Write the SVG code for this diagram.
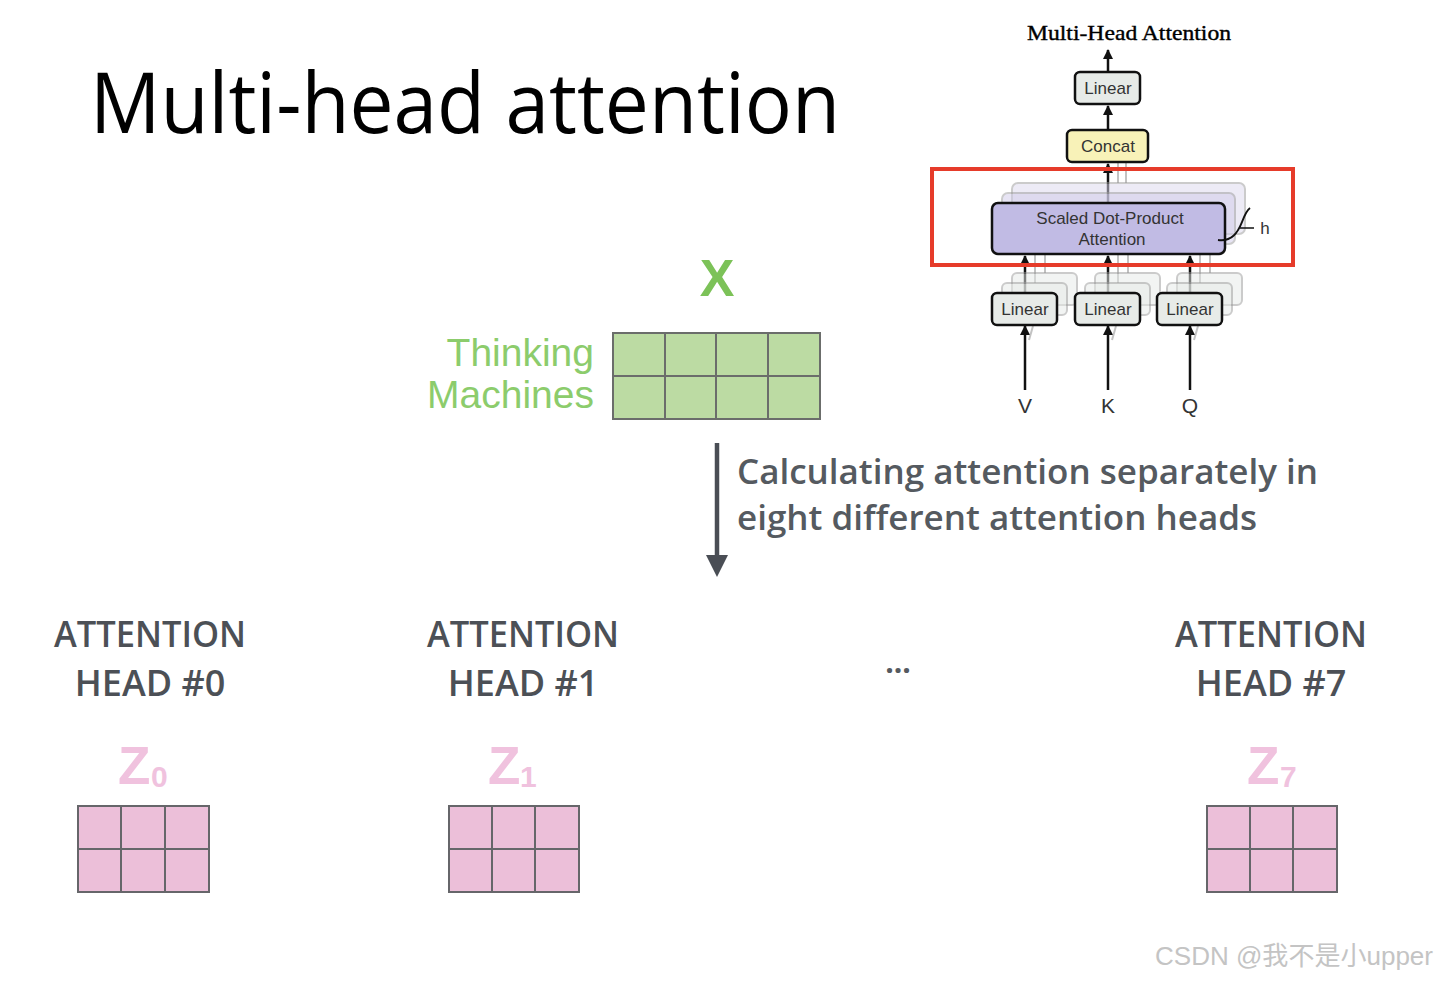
<svg xmlns="http://www.w3.org/2000/svg" width="1440" height="981" viewBox="0 0 1440 981">
<defs>
<marker id="ah" viewBox="0 0 10 10" refX="9" refY="5" markerWidth="4" markerHeight="4" orient="auto" markerUnits="strokeWidth"><path d="M0,0 L10,5 L0,10 z" fill="#111"/></marker>
<style>
.title{font-family:"Open Sans","Noto Sans",sans-serif;font-size:84px;fill:#000}
.mha{font-family:"Liberation Serif",serif;font-size:22px;fill:#000;stroke:#000;stroke-width:0.4}
.box{stroke:#111;stroke-width:2.5}
.ghost{stroke:#999;stroke-width:2;opacity:0.5}
.lin{fill:#e7ebe8}
.sm{font-family:"Liberation Sans",sans-serif;font-size:17px;fill:#333;text-anchor:middle}
.wire{stroke:#111;stroke-width:2.5;fill:none}
.fwire{stroke:#999;stroke-width:2;fill:none;opacity:0.6}
.green{font-family:"Liberation Sans",sans-serif;fill:#8ccc6c}
.gcell{fill:#bcdba3;stroke:#6b6d6b;stroke-width:2}
.pcell{fill:#ecbfd9;stroke:#66666a;stroke-width:2}
.head{font-family:"Open Sans","Noto Sans",sans-serif;font-size:36px;font-weight:600;fill:#4c5056;text-anchor:middle}
.desc{font-family:"Open Sans","Noto Sans",sans-serif;font-size:34px;font-weight:600;fill:#555a60}
.z{font-family:"Liberation Sans",sans-serif;font-weight:bold;fill:#f0c2de}
</style>
</defs>
<rect width="1440" height="981" fill="#fff"/>
<text class="title" x="90" y="133" textLength="750" lengthAdjust="spacingAndGlyphs">Multi-head attention</text>

<g id="mha-diagram">
<text class="mha" x="1027" y="40" textLength="204" lengthAdjust="spacingAndGlyphs">Multi-Head Attention</text>
<g id="connectors-mha">
<line class="wire" x1="1108" y1="72" x2="1108" y2="50" marker-end="url(#ah)"/>
<line class="wire" x1="1108" y1="130" x2="1108" y2="106" marker-end="url(#ah)"/>
<line class="fwire" x1="1118" y1="183" x2="1118" y2="163"/>
<line class="fwire" x1="1126" y1="183" x2="1126" y2="163"/>
<line class="wire" x1="1108" y1="202" x2="1108" y2="164" marker-end="url(#ah)"/>
<line class="fwire" x1="1035" y1="283" x2="1035" y2="254"/>
<line class="fwire" x1="1045" y1="273" x2="1045" y2="244"/>
<line class="fwire" x1="1118" y1="283" x2="1118" y2="254"/>
<line class="fwire" x1="1128" y1="273" x2="1128" y2="244"/>
<line class="fwire" x1="1200" y1="283" x2="1200" y2="254"/>
<line class="fwire" x1="1210" y1="273" x2="1210" y2="244"/>
<line class="wire" x1="1025" y1="292" x2="1025" y2="256" marker-end="url(#ah)"/>
<line class="wire" x1="1108" y1="292" x2="1108" y2="256" marker-end="url(#ah)"/>
<line class="wire" x1="1190" y1="292" x2="1190" y2="256" marker-end="url(#ah)"/>
<line class="wire" x1="1025" y1="390" x2="1025" y2="326" marker-end="url(#ah)"/>
<line class="wire" x1="1108" y1="390" x2="1108" y2="326" marker-end="url(#ah)"/>
<line class="wire" x1="1190" y1="390" x2="1190" y2="326" marker-end="url(#ah)"/>
<line class="fwire" x1="1029" y1="340" x2="1033" y2="326"/>
<line class="fwire" x1="1112" y1="340" x2="1116" y2="326"/>
<line class="fwire" x1="1194" y1="340" x2="1198" y2="326"/>
</g>
<g id="linear-top"><rect class="box lin" x="1075" y="72" width="65" height="32" rx="5"/><text class="sm" x="1108" y="94">Linear</text></g>
<g id="concat"><rect class="box" fill="#f8f2b8" x="1067" y="130" width="81" height="32" rx="5"/><text class="sm" x="1108" y="152">Concat</text></g>
<g id="sdpa">
<rect class="ghost" fill="#dcd8ef" x="1012" y="183" width="233" height="51" rx="6"/>
<rect class="ghost" fill="#d0cbea" x="1002" y="193" width="233" height="51" rx="6"/>
<rect class="box" fill="#c1bbe4" x="992" y="203" width="233" height="51" rx="6"/>
<text class="sm" x="1110" y="224">Scaled Dot-Product</text>
<text class="sm" x="1112" y="245">Attention</text>
<path d="M1218,240 C1232,242 1238,232 1242,222 C1245,214 1247,210 1250,208" fill="none" stroke="#111" stroke-width="2"/>
<line x1="1240" y1="228" x2="1254" y2="228" stroke="#111" stroke-width="1.5"/>
<text class="sm" x="1265" y="234">h</text>
</g>
<g id="linear-v"><rect class="ghost lin" x="1012" y="273" width="65" height="32" rx="5"/><rect class="ghost lin" x="1002" y="283" width="65" height="32" rx="5"/><rect class="box lin" x="992" y="293" width="65" height="32" rx="5"/><text class="sm" x="1025" y="315">Linear</text></g>
<g id="linear-k"><rect class="ghost lin" x="1095" y="273" width="65" height="32" rx="5"/><rect class="ghost lin" x="1085" y="283" width="65" height="32" rx="5"/><rect class="box lin" x="1075" y="293" width="65" height="32" rx="5"/><text class="sm" x="1108" y="315">Linear</text></g>
<g id="linear-q"><rect class="ghost lin" x="1177" y="273" width="65" height="32" rx="5"/><rect class="ghost lin" x="1167" y="283" width="65" height="32" rx="5"/><rect class="box lin" x="1157" y="293" width="65" height="32" rx="5"/><text class="sm" x="1190" y="315">Linear</text></g>
<text class="sm" x="1025" y="413" font-size="21" style="font-size:21px">V</text>
<text class="sm" x="1108" y="413" style="font-size:21px">K</text>
<text class="sm" x="1190" y="413" style="font-size:21px">Q</text>
<rect id="highlight" x="932" y="169" width="361" height="96" fill="none" stroke="#e63b2a" stroke-width="4"/>
</g>

<g id="input-x">
<text x="717" y="296" font-family="Liberation Sans, sans-serif" font-size="52" font-weight="bold" fill="#7cc258" text-anchor="middle">X</text>
<text class="green" x="594" y="366" font-size="39" text-anchor="end">Thinking</text>
<text class="green" x="594" y="408" font-size="39" text-anchor="end">Machines</text>
<g>
<rect class="gcell" x="613" y="333" width="52" height="43"/><rect class="gcell" x="665" y="333" width="51" height="43"/><rect class="gcell" x="716" y="333" width="52" height="43"/><rect class="gcell" x="768" y="333" width="52" height="43"/>
<rect class="gcell" x="613" y="376" width="52" height="43"/><rect class="gcell" x="665" y="376" width="51" height="43"/><rect class="gcell" x="716" y="376" width="52" height="43"/><rect class="gcell" x="768" y="376" width="52" height="43"/>
</g>
</g>

<g id="connectors">
<line x1="717" y1="443" x2="717" y2="558" stroke="#4a4e55" stroke-width="4.5"/>
<path d="M706,555 L728,555 L717,577 z" fill="#4a4e55"/>
</g>
<text class="desc" x="737" y="484" textLength="581" lengthAdjust="spacingAndGlyphs">Calculating attention separately in</text>
<text class="desc" x="737" y="530" textLength="520" lengthAdjust="spacingAndGlyphs">eight different attention heads</text>

<g id="head0">
<text class="head" x="150" y="647" textLength="192" lengthAdjust="spacingAndGlyphs">ATTENTION</text>
<text class="head" x="150" y="696">HEAD #0</text>
<text class="z" x="118" y="784" font-size="53">Z</text><text class="z" x="151" y="787" font-size="30">0</text>
<rect class="pcell" x="78" y="806" width="43" height="43"/><rect class="pcell" x="121" y="806" width="44" height="43"/><rect class="pcell" x="165" y="806" width="44" height="43"/>
<rect class="pcell" x="78" y="849" width="43" height="43"/><rect class="pcell" x="121" y="849" width="44" height="43"/><rect class="pcell" x="165" y="849" width="44" height="43"/>
</g>
<g id="head1">
<text class="head" x="523" y="647" textLength="192" lengthAdjust="spacingAndGlyphs">ATTENTION</text>
<text class="head" x="523" y="696">HEAD #1</text>
<text class="z" x="488" y="784" font-size="53">Z</text><text class="z" x="520" y="787" font-size="30">1</text>
<rect class="pcell" x="449" y="806" width="43" height="43"/><rect class="pcell" x="492" y="806" width="43" height="43"/><rect class="pcell" x="535" y="806" width="44" height="43"/>
<rect class="pcell" x="449" y="849" width="43" height="43"/><rect class="pcell" x="492" y="849" width="43" height="43"/><rect class="pcell" x="535" y="849" width="44" height="43"/>
</g>
<text x="898" y="673" font-family="Open Sans, sans-serif" font-size="30" font-weight="bold" fill="#555a60" text-anchor="middle">...</text>
<g id="head7">
<text class="head" x="1271" y="647" textLength="192" lengthAdjust="spacingAndGlyphs">ATTENTION</text>
<text class="head" x="1271" y="696">HEAD #7</text>
<text class="z" x="1247" y="784" font-size="53">Z</text><text class="z" x="1280" y="787" font-size="30">7</text>
<rect class="pcell" x="1207" y="806" width="43" height="43"/><rect class="pcell" x="1250" y="806" width="43" height="43"/><rect class="pcell" x="1293" y="806" width="44" height="43"/>
<rect class="pcell" x="1207" y="849" width="43" height="43"/><rect class="pcell" x="1250" y="849" width="43" height="43"/><rect class="pcell" x="1293" y="849" width="44" height="43"/>
</g>
<text x="1155" y="965" font-family="Liberation Sans, Noto Sans CJK SC, sans-serif" font-size="26" fill="#c4c4c4" textLength="278" lengthAdjust="spacingAndGlyphs">CSDN @我不是小upper</text>
</svg>
